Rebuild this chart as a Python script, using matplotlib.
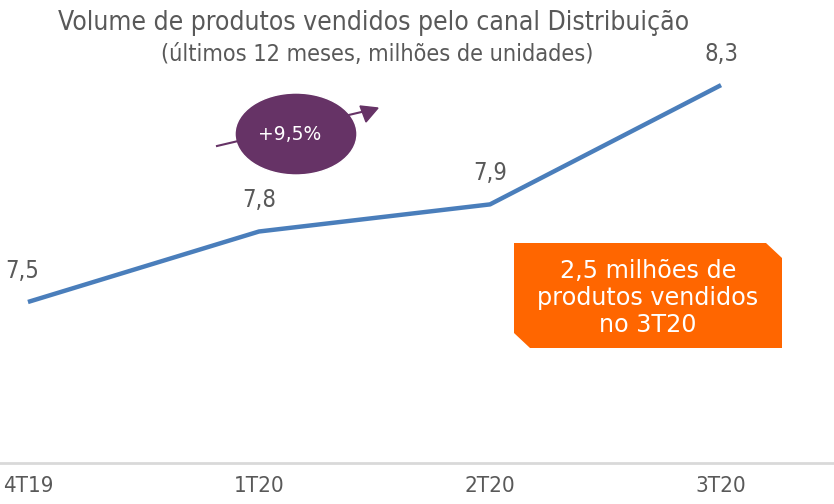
import matplotlib.pyplot as plt
import numpy as np
from matplotlib.patches import Ellipse, Polygon

quarters = ["4T19", "1T20", "2T20", "3T20"]
volume = [7.5, 7.76, 7.86, 8.3]  # milhões de unidades, últimos 12 meses

NARROW = ['DejaVu Sans Condensed', 'Liberation Sans Narrow', 'DejaVu Sans']
WIDE = ['DejaVu Sans']
GRAY = '#595959'

W, H = 834, 504
fig = plt.figure(figsize=(W / 100, H / 100), dpi=100)
ax = fig.add_axes([0, 41 / H, 1, 1 - 41 / H])

x = np.arange(len(quarters))
ax.plot(x, volume, color='#4a7ebb', lw=3.2, solid_capstyle='butt')
for xi, v in zip(x, volume):
    ax.annotate(f"{v:.1f}".replace('.', ','), (xi, v), xytext=(-4 if xi == 0 else 0, 14),
                textcoords='offset points', ha='center', va='bottom',
                fontsize=17, color=GRAY, family=NARROW, fontstretch='condensed')

ax.set_xlim(-0.121, 3.489)
ax.set_ylim(6.906, 8.614)
ax.set_xticks(x, quarters)
ax.tick_params(axis='x', length=0, pad=9, labelsize=16, labelcolor=GRAY)
for lbl in ax.get_xticklabels():
    lbl.set_family(NARROW)
    lbl.set_fontstretch('condensed')
ax.set_yticks([])
for s in ['top', 'right', 'left']:
    ax.spines[s].set_visible(False)
ax.spines['bottom'].set_color('#d9d9d9')
ax.spines['bottom'].set_linewidth(2)


def px(xp, yp):
    return (xp / W, 1 - yp / H)


fig.text(*px(374, 23), "Volume de produtos vendidos pelo canal Distribuição",
         ha='center', va='center', fontsize=19, color=GRAY, family=NARROW,
         fontstretch='condensed')
fig.text(*px(377, 54), "(últimos 12 meses, milhões de unidades)",
         ha='center', va='center', fontsize=16.8, color=GRAY, family=NARROW,
         fontstretch='condensed')

# growth arrow + ellipse
fig.add_artist(plt.Line2D([217 / W, 370 / W], [1 - 146 / H, 1 - 110 / H],
                          transform=fig.transFigure, color='#663366', lw=1.5))
fig.patches.append(Polygon([px(378, 108), px(360, 106), px(366, 122)], closed=True,
                           transform=fig.transFigure, color='#663366'))
fig.patches.append(Ellipse(px(296, 134), 122 / W, 82 / H, transform=fig.transFigure,
                           facecolor='#663366', edgecolor='white', lw=1))
fig.text(*px(290, 134), "+9,5%", ha='center', va='center', fontsize=13.5,
         color='white', family=WIDE)

# orange callout
box = [px(514, 243), px(766, 243), px(782, 258), px(782, 348),
       px(530, 348), px(514, 333)]
fig.patches.append(Polygon(box, closed=True, transform=fig.transFigure,
                           facecolor='#ff6600', edgecolor='none'))
fig.text(*px(648, 298), "2,5 milhões de\nprodutos vendidos\nno 3T20", ha='center',
         va='center', fontsize=17.2, color='white', family=WIDE, linespacing=1.15)

fig.savefig('out.png', dpi=100)
